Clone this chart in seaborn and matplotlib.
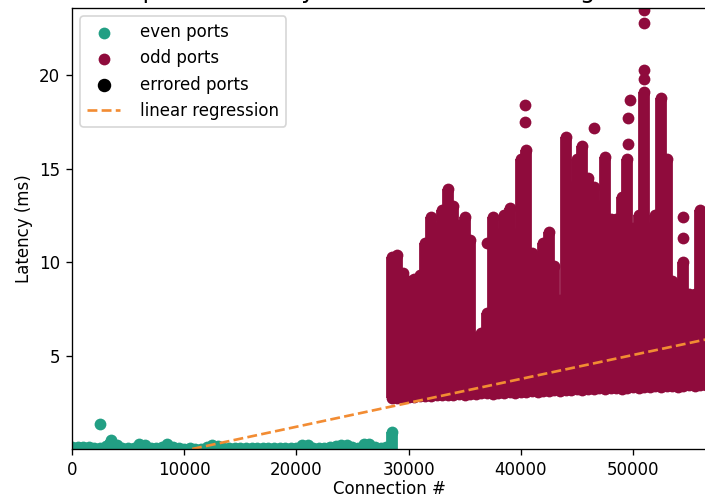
import matplotlib
matplotlib.use("Agg")
import matplotlib.pyplot as plt
import seaborn as sns

# colours
even_color = "#229f84"
odd_color = "#8f0b3c"
reg_color = "#f28c33"

# even ports: connection bins and the top of the point cloud (ms)
even_conn = list(range(0, 29000, 500))
even_top = [0.10, 0.12, 0.12, 0.10, 0.05, 0.05, 0.15, 0.48, 0.20, 0.08,
            0.05, 0.08, 0.25, 0.20, 0.05, 0.05, 0.10, 0.25, 0.10, 0.05,
            0.00, 0.03, 0.00, 0.00, 0.10, 0.20, 0.15, 0.05, 0.03, 0.05,
            0.03, 0.05, 0.03, 0.05, 0.08, 0.05, 0.03, 0.05, 0.05, 0.08,
            0.05, 0.20, 0.22, 0.08, 0.03, 0.05, 0.10, 0.15, 0.20, 0.22,
            0.10, 0.05, 0.25, 0.28, 0.10, 0.05, 0.10, 0.93]
even_out_x = [2500]
even_out_y = [1.35]

# odd ports: connection bins, bottom and top of the cloud (ms)
odd_conn = list(range(28500, 57000, 500))
odd_low = [2.75, 2.75, 2.80, 2.80, 2.80, 2.85, 2.85, 2.85, 2.90, 2.90,
           2.90, 2.90, 2.95, 2.90, 2.95, 2.95, 3.00, 3.00, 2.95, 3.00,
           3.00, 3.05, 3.00, 3.05, 3.05, 3.10, 3.05, 3.10, 3.10, 3.15,
           3.10, 3.15, 3.15, 3.20, 3.15, 3.20, 3.20, 3.25, 3.20, 3.25,
           3.25, 3.20, 3.25, 3.30, 3.25, 3.30, 3.30, 3.35, 3.30, 3.35,
           3.35, 3.30, 3.35, 3.40, 3.35, 3.40, 3.40]
odd_top = [10.3, 10.4, 9.4, 9.0, 9.1, 9.3, 11.0, 12.4, 11.8, 12.8,
           13.9, 13.0, 12.0, 12.4, 11.2, 6.0, 6.2, 7.3, 12.4, 11.5,
           12.5, 12.9, 11.5, 15.5, 16.0, 10.5, 10.0, 11.0, 11.6, 9.8,
           8.0, 16.7, 14.0, 15.5, 16.2, 14.5, 14.0, 13.0, 15.6, 12.3,
           12.3, 13.5, 15.5, 11.8, 12.5, 19.1, 11.8, 12.5, 18.8, 15.5,
           9.0, 8.5, 10.0, 8.3, 8.3, 12.8, 11.5]
odd_out_x = [37000, 40400, 40400, 46500, 49600, 49600, 49700,
             51000, 51000, 51000, 51000, 54500, 54500]
odd_out_y = [11.0, 17.5, 18.4, 17.2, 16.3, 17.7, 18.7,
             19.8, 20.3, 22.8, 23.5, 11.3, 12.4]

# linear regression fit
reg_slope = 1.28e-4
reg_intercept = -1.37

dpi = 120
fig = plt.figure(figsize=(705 / dpi, 500 / dpi), dpi=dpi)
ax = fig.add_axes([72 / 705, 51 / 500, 635 / 705, 441 / 500])

dot = 50
lw = dot ** 0.5

# even ports
ax.vlines(even_conn, 0, even_top, color=even_color, linewidth=lw)
sns.scatterplot(x=even_conn + even_out_x, y=even_top + even_out_y, color=even_color,
                s=dot, linewidth=0, ax=ax, label="even ports")

# odd ports
ax.vlines(odd_conn, odd_low, odd_top, color=odd_color, linewidth=lw)
sns.scatterplot(x=odd_conn + odd_conn + odd_out_x, y=odd_low + odd_top + odd_out_y,
                color=odd_color, s=dot, linewidth=0, ax=ax, label="odd ports")

# errored ports (none in this run)
ax.scatter([], [], color="black", s=dot, label="errored ports")

ax.axline((0, reg_intercept), slope=reg_slope, color=reg_color, linestyle="--",
          linewidth=1.6, label="linear regression")

ax.set_xlim(0, 56600)
ax.set_ylim(0, 23.6)
ax.set_xticks([0, 10000, 20000, 30000, 40000, 50000])
ax.set_yticks([5, 10, 15, 20])
ax.set_xlabel("Connection #", labelpad=1)
ax.set_ylabel("Latency (ms)")
ax.set_title("Scatter plot of latency vs connection with regression line", fontsize=14.4)
ax.legend(loc="upper left", handletextpad=1.2)

fig.savefig("out.png", dpi=dpi)
